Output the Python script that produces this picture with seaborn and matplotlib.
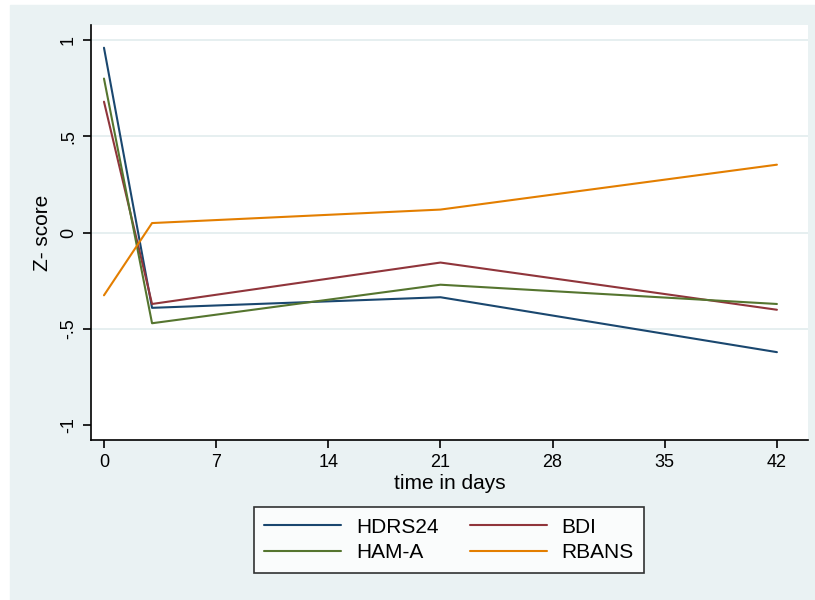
import numpy as np
import pandas as pd
import seaborn as sns
import matplotlib.pyplot as plt
from matplotlib.patches import Rectangle

# values
days = [0, 3, 21, 42]
hdrs24 = [0.96, -0.39, -0.335, -0.62]
bdi = [0.68, -0.37, -0.155, -0.40]
ham_a = [0.80, -0.47, -0.27, -0.37]
rbans = [-0.325, 0.05, 0.12, 0.353]

series_names = ["HDRS24", "BDI", "HAM-A", "RBANS"]
series_colors = ["#1a476f", "#90353b", "#55752f", "#e37e00"]
x_ticks = [0, 7, 14, 21, 28, 35, 42]
y_ticks = [-1, -0.5, 0, 0.5, 1]
y_tick_labels = ["-1", "-.5", "0", ".5", "1"]

df = pd.DataFrame({
    "day": days * 4,
    "z": hdrs24 + bdi + ham_a + rbans,
    "measure": np.repeat(series_names, len(days)),
})

sns.set_style("white")
plt.rcParams["font.family"] = ["Liberation Sans", "DejaVu Sans"]
plt.rcParams["text.color"] = "black"
plt.rcParams["axes.labelcolor"] = "black"
plt.rcParams["xtick.color"] = "black"
plt.rcParams["ytick.color"] = "black"

bg = "#eaf2f3"
fig = plt.figure(figsize=(8.15, 6.0), dpi=100)
fig.patch.set_facecolor("white")
fig.patches.append(Rectangle((10 / 815, 0), 805 / 815, 595 / 600,
                             transform=fig.transFigure, color=bg, zorder=-10))

ax = fig.add_axes([91 / 815, 1 - 440 / 600, 717 / 815, 415 / 600])
ax.set_facecolor("white")

sns.lineplot(data=df, x="day", y="z", hue="measure", hue_order=series_names,
             palette=series_colors, linewidth=1.5, ax=ax, legend=False)

# stata-like gridlines (none on the lowest tick)
for yv in y_ticks[1:]:
    ax.axhline(yv, color="#e2ecee", linewidth=1.2, zorder=0)

ax.set_xlim(-0.81, 43.94)
ax.set_ylim(-1.076, 1.078)
ax.set_xticks(x_ticks)
ax.set_yticks(y_ticks)
ax.set_yticklabels(y_tick_labels, rotation=90, va="center")
ax.tick_params(axis="both", direction="out", length=6, width=1.2, color="black",
               labelsize=13, pad=4, labelcolor="black")
ax.tick_params(axis="both", which="both", bottom=True, left=True)

for side in ["top", "right"]:
    ax.spines[side].set_visible(False)
for side in ["left", "bottom"]:
    ax.spines[side].set_color("black")
    ax.spines[side].set_linewidth(1.2)

ax.set_xlabel("time in days", fontsize=15, labelpad=2, color="black")
ax.set_ylabel("Z- score", fontsize=15, labelpad=6, color="black")

# legend filled column by column, so order gives rows HDRS24/BDI, HAM-A/RBANS
lines = {n: plt.Line2D([], [], color=c, linewidth=1.5)
         for n, c in zip(series_names, series_colors)}
order = ["HDRS24", "HAM-A", "BDI", "RBANS"]
leg = fig.legend([lines[n] for n in order], order, loc="center",
                 bbox_to_anchor=(449 / 815, 1 - 540 / 600), ncol=2,
                 fontsize=15, handlelength=3.7, columnspacing=1.5,
                 labelspacing=0.32, handletextpad=0.7, frameon=True,
                 fancybox=False, borderpad=0.5)
leg.get_frame().set_edgecolor("black")
leg.get_frame().set_linewidth(1.2)

fig.savefig("out.png", dpi=100, facecolor=fig.get_facecolor())
